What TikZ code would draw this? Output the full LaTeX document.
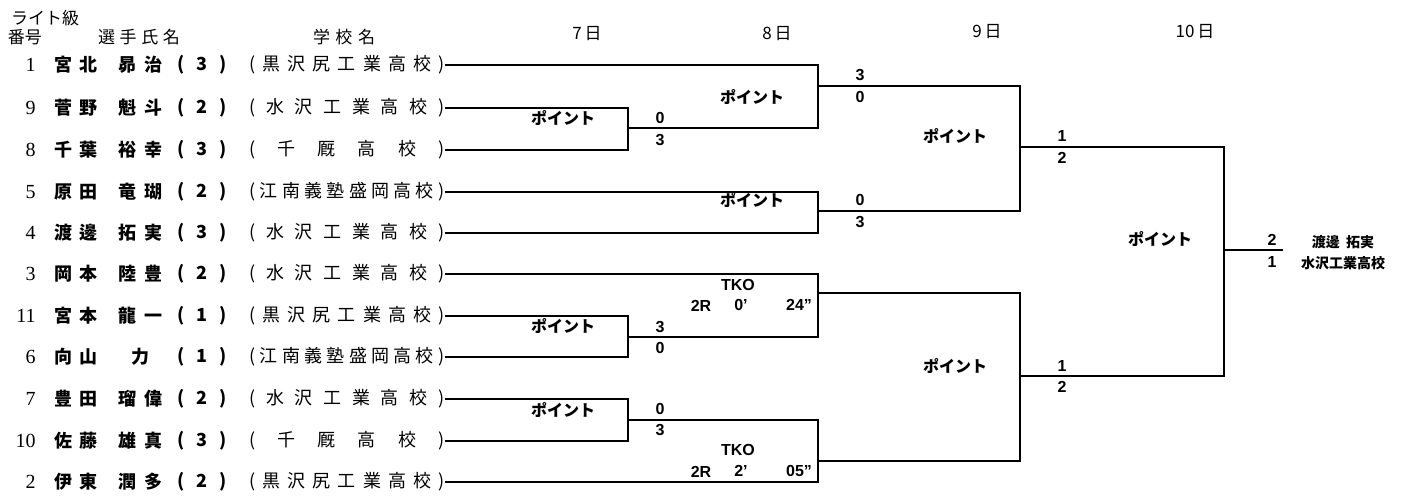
\documentclass[tikz,border=0pt]{standalone}
\usepackage{fontspec}
\setmainfont{Liberation Sans}
\newfontfamily\jp{Noto Sans CJK JP}
\newfontfamily\numf{Liberation Serif}
\def\spr#1{\sprA#1\relax}
\def\sprA#1{#1\sprB}
\def\sprB#1{\ifx#1\relax\else\hfill #1\expandafter\sprB\fi}
\tikzset{
  brk/.style={line width=1.1pt, line join=miter},
  lbl/.style={font=\jp\bfseries\fontsize{8}{8}\selectfont, inner sep=0pt},
  sc/.style={font=\bfseries\fontsize{8}{8}\selectfont, inner sep=0pt},
  nm/.style={font=\jp\bfseries\fontsize{9}{9}\selectfont, inner sep=0pt, anchor=west},
  sch/.style={font=\jp\fontsize{9}{9}\selectfont, inner sep=0pt, anchor=west},
  idx/.style={font=\numf\fontsize{10}{10}\selectfont, inner sep=0pt, anchor=east},
  hd/.style={font=\jp\fontsize{8.5}{9}\selectfont, inner sep=0pt},
  win/.style={font=\jp\bfseries\fontsize{7}{7}\selectfont, inner sep=0pt}
}
\newcommand\entry[7]{%
  \node[idx] (n#1) at (36,#2) {#3};
  \node[nm] (a#1) at (54,#2) {\makebox[21.5pt][s]{\spr{#4}}};
  \node[nm] (b#1) at (118,#2) {\makebox[22pt][s]{#5}};
  \node[nm] (g#1) at (177,#2) {\makebox[24.5pt][s]{(\hfill #6\hfill )}};
  \node[sch] (s#1) at (249,#2) {\makebox[97.5pt][s]{\spr{#7}}};
}
\begin{document}
\begin{tikzpicture}[x=0.5pt,y=-0.5pt]
\useasboundingbox (0,0) rectangle (1404,497);
% headers
\node[hd] (hA) at (45,18) {ライト級};
\node[hd] (hB) at (25,37) {番号};
\node[hd] (hC) at (139,37) {\makebox[41pt][s]{\spr{選手氏名}}};
\node[hd] (hD) at (344,37) {\makebox[31pt][s]{\spr{学校名}}};
\node[hd] (d7) at (587,34) {7\,日};
\node[hd] (d8) at (777,34) {8\,日};
\node[hd] (d9) at (987,32) {9\,日};
\node[hd] (d10) at (1195,32) {10\,日};
% entries
\entry{1}{65}{1}{宮北}{\spr{昴治}}{3}{(黒沢尻工業高校)}
\entry{2}{108}{9}{菅野}{\spr{魁斗}}{2}{(水沢工業高校)}
\entry{3}{150}{8}{千葉}{\spr{裕幸}}{3}{(千厩高校)}
\entry{4}{192}{5}{原田}{\spr{竜瑚}}{2}{(江南義塾盛岡高校)}
\entry{5}{233}{4}{渡邊}{\spr{拓実}}{3}{(水沢工業高校)}
\entry{6}{274}{3}{岡本}{\spr{陸豊}}{2}{(水沢工業高校)}
\entry{7}{316}{11}{宮本}{\spr{龍一}}{1}{(黒沢尻工業高校)}
\entry{8}{357}{6}{向山}{\hfill 力\hfill}{1}{(江南義塾盛岡高校)}
\entry{9}{399}{7}{豊田}{\spr{瑠偉}}{2}{(水沢工業高校)}
\entry{10}{441}{10}{佐藤}{\spr{雄真}}{3}{(千厩高校)}
\entry{11}{482}{2}{伊東}{\spr{潤多}}{2}{(黒沢尻工業高校)}
% join points
\coordinate (m1) at (628,128);
\coordinate (m2) at (818,86);
\coordinate (m3) at (818,211);
\coordinate (m4) at (1020,147);
\coordinate (m5) at (628,337);
\coordinate (m6) at (818,293);
\coordinate (m7) at (628,420);
\coordinate (m8) at (818,461);
\coordinate (m9) at (1020,376);
\coordinate (m10) at (1224,250);
\coordinate (w) at (1283,250);
% bracket
\draw[brk] (s2.east) -| (m1) |- (s3.east);
\draw[brk] (s1.east) -| (m2) |- (m1);
\draw[brk] (s4.east) -| (m3) |- (s5.east);
\draw[brk] (m2) -| (m4) |- (m3);
\draw[brk] (s7.east) -| (m5) |- (s8.east);
\draw[brk] (s6.east) -| (m6) |- (m5);
\draw[brk] (s9.east) -| (m7) |- (s10.east);
\draw[brk] (m7) -| (m8) |- (s11.east);
\draw[brk] (m6) -| (m9) |- (m8);
\draw[brk] (m4) -| (m10) |- (m9);
\draw[brk] (m10) -- (w);
% 7th
\node[lbl] (p1) at (563,118) {ポイント};
\node[sc] (c1a) at (660,118) {0};
\node[sc] (c1b) at (660,140) {3};
\node[lbl] (p5) at (563,326) {ポイント};
\node[sc] (c5a) at (660,327) {3};
\node[sc] (c5b) at (660,348) {0};
\node[lbl] (p7) at (563,410) {ポイント};
\node[sc] (c7a) at (660,409) {0};
\node[sc] (c7b) at (660,430) {3};
% 8th
\node[lbl] (p2) at (752,97) {ポイント};
\node[sc] (c2a) at (860,75) {3};
\node[sc] (c2b) at (860,97) {0};
\node[lbl] (p3) at (752,200) {ポイント};
\node[sc] (c3a) at (860,200) {0};
\node[sc] (c3b) at (860,222) {3};
\node[sc] (t6) at (738,285) {TKO};
\node[sc] (t6a) at (701,306) {2R};
\node[sc] (t6b) at (741,305) {0'};
\node[sc] (t6c) at (799,305) {24"};
\node[sc] (t8) at (738,450) {TKO};
\node[sc] (t8a) at (701,472) {2R};
\node[sc] (t8b) at (741,471) {2'};
\node[sc] (t8c) at (799,471) {05"};
% 9th
\node[lbl] (p4) at (955,136) {ポイント};
\node[sc] (c4a) at (1062,136) {1};
\node[sc] (c4b) at (1062,158) {2};
\node[lbl] (p9) at (955,366) {ポイント};
\node[sc] (c9a) at (1062,366) {1};
\node[sc] (c9b) at (1062,387) {2};
% 10th
\node[lbl] (p10) at (1160,239) {ポイント};
\node[sc] (c10a) at (1272,240) {2};
\node[sc] (c10b) at (1272,262) {1};
\node[win] (wn) at (1343,242) {渡邊\ \ 拓実};
\node[win] (ws) at (1343,263) {水沢工業高校};
\end{tikzpicture}
\end{document}
